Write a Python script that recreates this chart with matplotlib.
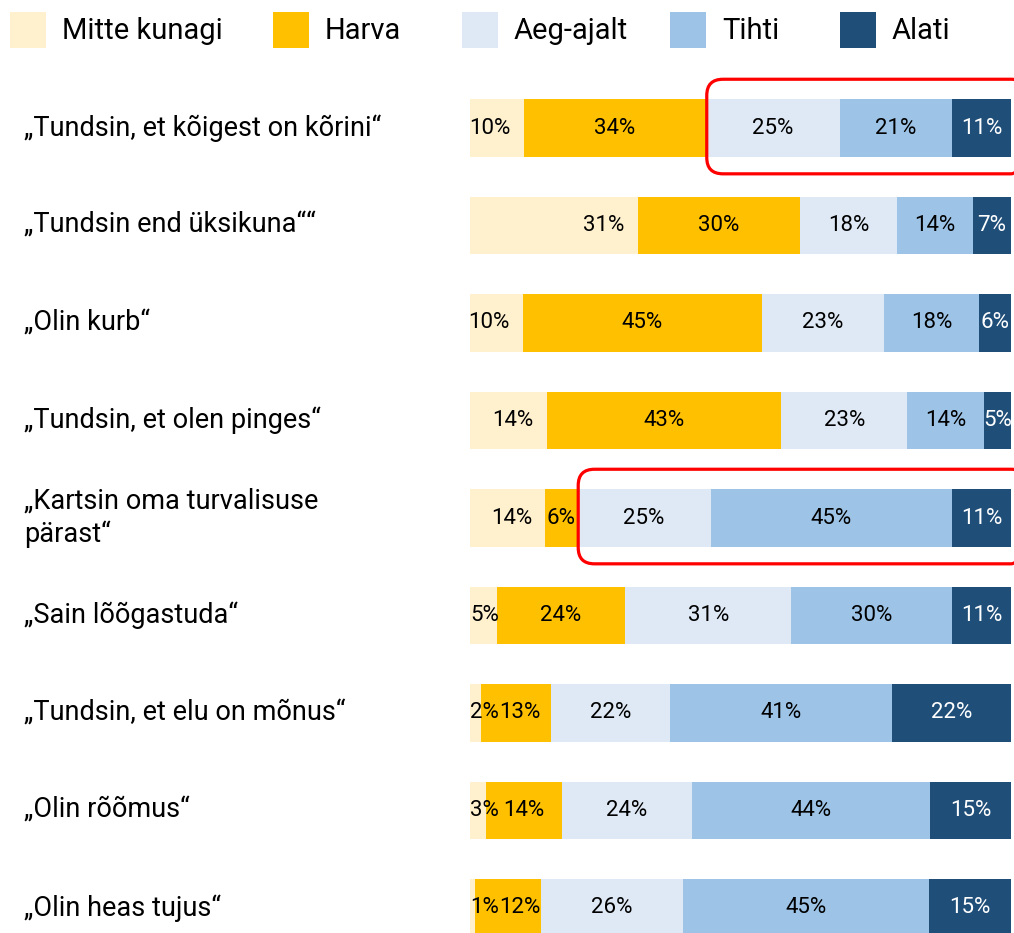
import matplotlib
matplotlib.use("Agg")
import matplotlib.pyplot as plt
from matplotlib.patches import Rectangle, FancyBboxPatch
from matplotlib.transforms import blended_transform_factory

# Survey statements and answer shares (%)
statements = [
    "„Tundsin, et kõigest on kõrini“",
    "„Tundsin end üksikuna““",
    "„Olin kurb“",
    "„Tundsin, et olen pinges“",
    "„Kartsin oma turvalisuse\npärast“",
    "„Sain lõõgastuda“",
    "„Tundsin, et elu on mõnus“",
    "„Olin rõõmus“",
    "„Olin heas tujus“",
]
answers = ["Mitte kunagi", "Harva", "Aeg-ajalt", "Tihti", "Alati"]
never = [10, 31, 10, 14, 14, 5, 2, 3, 1]
rarely = [34, 30, 45, 43, 6, 24, 13, 14, 12]
sometimes = [25, 18, 23, 23, 25, 31, 22, 24, 26]
often = [21, 14, 18, 14, 45, 30, 41, 44, 45]
always = [11, 7, 6, 5, 11, 11, 22, 15, 15]
highlighted = [0, 4]  # rows with the "sometimes or more" group boxed

colors = ["#FFF0CE", "#FFC000", "#DEE9F5", "#9DC3E6", "#1F4E79"]
text_colors = ["black", "black", "black", "black", "white"]

W, H = 1014, 933
fig = plt.figure(figsize=(W / 100, H / 100), dpi=100)

# axes spans the bar area; rows 97.5 px apart, first row centred at y=128
ax = fig.add_axes([470 / W, 0, 541 / W, (H - 79) / H])
row_px = 97.5
ax.set_ylim((H - 128) / row_px, -49 / row_px)
ax.set_xlim(0, 100)
ax.axis("off")

pct_font = ["Roboto", "DejaVu Sans"]
pct_size = 16
series = [never, rarely, sometimes, often, always]

for i, label in enumerate(statements):
    vals = [s[i] for s in series]
    total = sum(vals)
    shares = [v * 100 / total for v in vals]
    left = 0
    for j, (v, w) in enumerate(zip(vals, shares)):
        ax.barh(i, w, left=left, height=0.585, color=colors[j], linewidth=0)
        if j == 0:
            # first segment: label hugs the right end, small ones start at 0
            if v >= 10:
                x, ha = left + w - 2.4, "right"
            else:
                x, ha = 0.0, "left"
        else:
            x, ha = left + w / 2, "center"
            if j == 1 and vals[0] < 10:
                # keep clear of the tiny first label
                x = max(x, 9.3)
        ax.text(x, i, f"{v}%", ha=ha, va="center", fontsize=pct_size,
                family=pct_font, color=text_colors[j])
        left += w
    if i in highlighted:
        start = shares[0] + shares[1] + 0.2
        box = FancyBboxPatch((start, i - 0.5), 103 - start, 0.97,
                             boxstyle="round,pad=0,rounding_size=3.0",
                             mutation_aspect=(541 / 100) / row_px,
                             fill=False, edgecolor="#FF0000", linewidth=2.3,
                             clip_on=False)
        ax.add_patch(box)

# statement labels on the left
trans = blended_transform_factory(fig.transFigure, ax.transData)
for i, label in enumerate(statements):
    ax.text(24 / W, i, label, transform=trans, ha="left", va="center",
            fontsize=19.5, family=["Roboto", "DejaVu Sans"], linespacing=1.25)

# legend row across the top
legend_x = [10, 273, 462, 670, 840]
for x, name, c in zip(legend_x, answers, colors):
    fig.add_artist(Rectangle((x / W, 1 - 48 / H), 36 / W, 36 / H,
                             transform=fig.transFigure, color=c, linewidth=0))
    fig.text((x + 52) / W, 1 - 31 / H, name, ha="left", va="center",
             fontsize=21, family=pct_font)

fig.savefig("out.png", dpi=100)
